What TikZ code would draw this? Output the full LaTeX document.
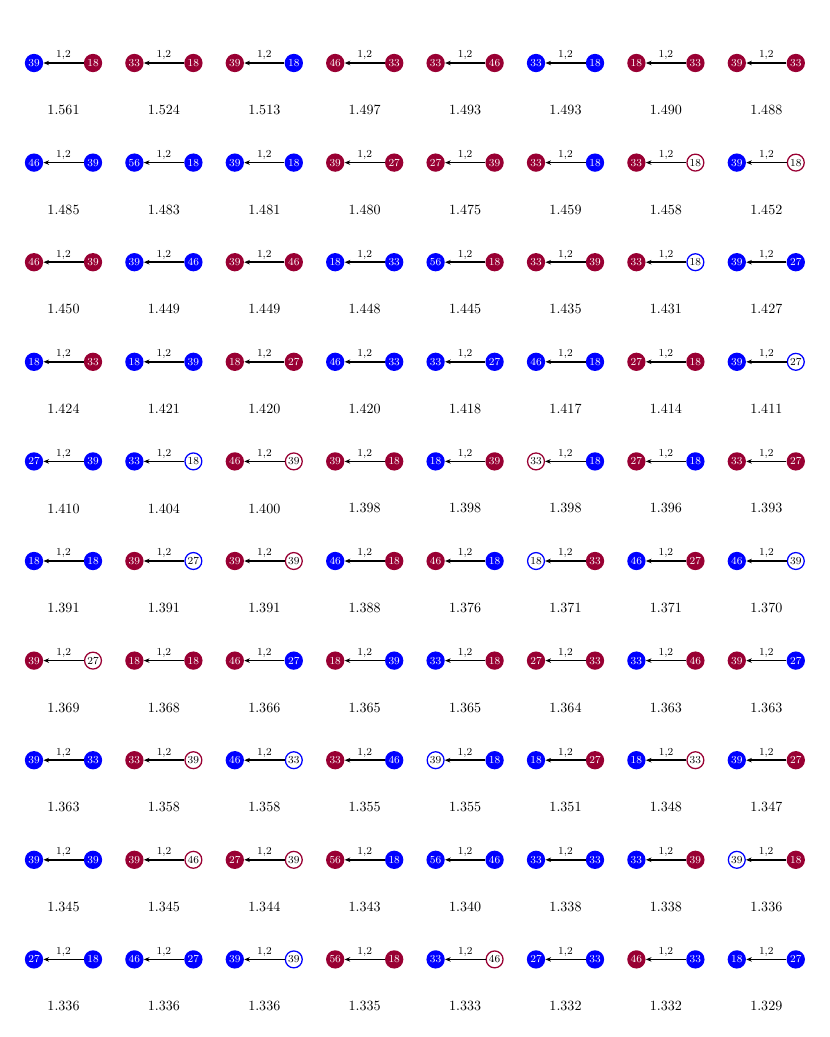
\documentclass[tikz,border=0pt]{standalone}
\usetikzlibrary{arrows.meta}
\definecolor{myblue}{RGB}{0,0,255}
\definecolor{myred}{RGB}{153,0,51}
\begin{document}
\begin{tikzpicture}[x=0.71pt,y=-0.71pt,
  vtx/.style={circle,minimum size=13pt,inner sep=0pt,font=\fontsize{7.6}{8}\selectfont},
  bf/.style={vtx,fill=myblue,text=white},
  rf/.style={vtx,fill=myred,text=white},
  bo/.style={vtx,draw=myblue,line width=0.9pt,fill=white,text=black,minimum size=12pt},
  ro/.style={vtx,draw=myred,line width=0.9pt,fill=white,text=black,minimum size=12pt},
  edgearr/.style={line width=1.2pt,-{Stealth[length=4pt,width=3.2pt]}},
  elabel/.style={midway,above,inner sep=1.5pt,font=\fontsize{7.6}{8}\selectfont},
  val/.style={font=\normalsize}]
\useasboundingbox (0,0) rectangle (830,1037);
\foreach \r/\c/\ls/\ln/\rs/\rn/\v in {
0/0/bf/39/rf/18/1.561, 0/1/rf/33/rf/18/1.524, 0/2/rf/39/bf/18/1.513, 0/3/rf/46/rf/33/1.497,
0/4/rf/33/rf/46/1.493, 0/5/bf/33/bf/18/1.493, 0/6/rf/18/rf/33/1.490, 0/7/rf/39/rf/33/1.488,
1/0/bf/46/bf/39/1.485, 1/1/bf/56/bf/18/1.483, 1/2/bf/39/bf/18/1.481, 1/3/rf/39/rf/27/1.480,
1/4/rf/27/rf/39/1.475, 1/5/rf/33/bf/18/1.459, 1/6/rf/33/ro/18/1.458, 1/7/bf/39/ro/18/1.452,
2/0/rf/46/rf/39/1.450, 2/1/bf/39/bf/46/1.449, 2/2/rf/39/rf/46/1.449, 2/3/bf/18/bf/33/1.448,
2/4/bf/56/rf/18/1.445, 2/5/rf/33/rf/39/1.435, 2/6/rf/33/bo/18/1.431, 2/7/bf/39/bf/27/1.427,
3/0/bf/18/rf/33/1.424, 3/1/bf/18/bf/39/1.421, 3/2/rf/18/rf/27/1.420, 3/3/bf/46/bf/33/1.420,
3/4/bf/33/bf/27/1.418, 3/5/bf/46/bf/18/1.417, 3/6/rf/27/rf/18/1.414, 3/7/bf/39/bo/27/1.411,
4/0/bf/27/bf/39/1.410, 4/1/bf/33/bo/18/1.404, 4/2/rf/46/ro/39/1.400, 4/3/rf/39/rf/18/1.398,
4/4/bf/18/rf/39/1.398, 4/5/ro/33/bf/18/1.398, 4/6/rf/27/bf/18/1.396, 4/7/rf/33/rf/27/1.393,
5/0/bf/18/bf/18/1.391, 5/1/rf/39/bo/27/1.391, 5/2/rf/39/ro/39/1.391, 5/3/bf/46/rf/18/1.388,
5/4/rf/46/bf/18/1.376, 5/5/bo/18/rf/33/1.371, 5/6/bf/46/rf/27/1.371, 5/7/bf/46/bo/39/1.370,
6/0/rf/39/ro/27/1.369, 6/1/rf/18/rf/18/1.368, 6/2/rf/46/bf/27/1.366, 6/3/rf/18/bf/39/1.365,
6/4/bf/33/rf/18/1.365, 6/5/rf/27/rf/33/1.364, 6/6/bf/33/rf/46/1.363, 6/7/rf/39/bf/27/1.363,
7/0/bf/39/bf/33/1.363, 7/1/rf/33/ro/39/1.358, 7/2/bf/46/bo/33/1.358, 7/3/rf/33/bf/46/1.355,
7/4/bo/39/bf/18/1.355, 7/5/bf/18/rf/27/1.351, 7/6/bf/18/ro/33/1.348, 7/7/bf/39/rf/27/1.347,
8/0/bf/39/bf/39/1.345, 8/1/rf/39/ro/46/1.345, 8/2/rf/27/ro/39/1.344, 8/3/rf/56/bf/18/1.343,
8/4/bf/56/bf/46/1.340, 8/5/bf/33/bf/33/1.338, 8/6/bf/33/rf/39/1.338, 8/7/bo/39/rf/18/1.336,
9/0/bf/27/bf/18/1.336, 9/1/bf/46/bf/27/1.336, 9/2/bf/39/bo/39/1.336, 9/3/rf/56/rf/18/1.335,
9/4/bf/33/ro/46/1.333, 9/5/bf/27/bf/33/1.332, 9/6/rf/46/bf/33/1.332, 9/7/bf/18/bf/27/1.329}
{
  \pgfmathsetmacro{\xl}{34+100.4*\c}
  \pgfmathsetmacro{\xr}{93+100.4*\c}
  \pgfmathsetmacro{\xm}{63.5+100.4*\c}
  \pgfmathsetmacro{\yn}{63+99.6*\r}
  \pgfmathsetmacro{\yv}{110+99.6*\r}
  \node[\ls] (L-\r-\c) at (\xl,\yn) {\ln};
  \node[\rs] (R-\r-\c) at (\xr,\yn) {\rn};
  \draw[edgearr] (R-\r-\c) -- (L-\r-\c) node[elabel] {1,2};
  \node[val] (V-\r-\c) at (\xm,\yv) {\v};
}
\end{tikzpicture}
\end{document}
